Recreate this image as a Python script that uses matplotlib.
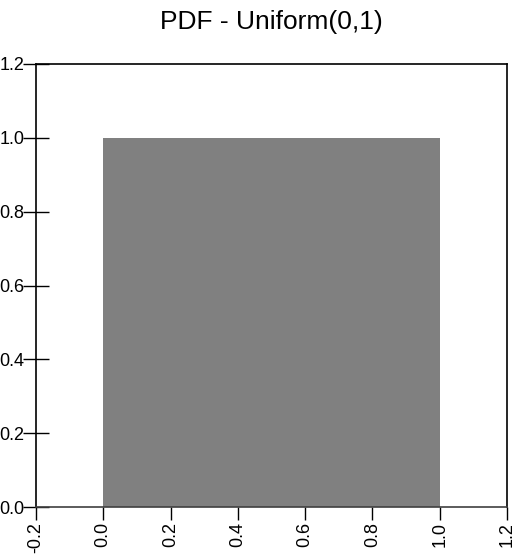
import numpy as np
import matplotlib.pyplot as plt

plt.rcParams['font.family'] = ['Liberation Sans', 'DejaVu Sans']

# uniform(0,1) density
x_edges = [0.0, 1.0]
density = [1.0]
xticks = [-0.2, 0.0, 0.2, 0.4, 0.6, 0.8, 1.0, 1.2]
yticks = [0.0, 0.2, 0.4, 0.6, 0.8, 1.0, 1.2]

fig = plt.figure(figsize=(5.21, 5.56), dpi=100)
ax = fig.add_axes([0.069, 0.088, 0.904, 0.797])

ax.bar(x_edges[0], density[0], width=x_edges[1] - x_edges[0], align='edge',
       color='#808080', edgecolor='none')

ax.set_xlim(-0.2, 1.2)
ax.set_ylim(0.0, 1.2)
ax.set_xticks(xticks)
ax.set_xticklabels(['%.1f' % v for v in xticks], rotation=90)
ax.set_yticks(yticks)
ax.set_yticklabels(['%.1f' % v for v in yticks])
ax.tick_params(axis='x', direction='out', length=9, width=1, labelsize=13, pad=2)
ax.tick_params(axis='y', direction='inout', length=19, width=1, labelsize=13, pad=-1)

for s in ax.spines.values():
    s.set_linewidth(1.2)
    s.set_color('black')
ax.spines['bottom'].set_color('#404040')

ax.set_title('PDF - Uniform(0,1)', fontsize=19, pad=25)

fig.savefig('out.png', dpi=100)
